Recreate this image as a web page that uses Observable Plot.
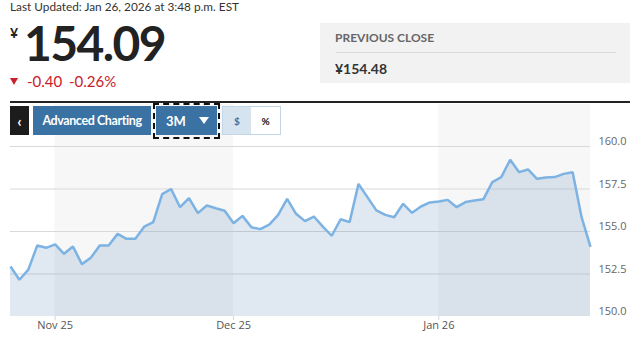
<!DOCTYPE html>
<html><head><meta charset="utf-8">
<script src="https://cdn.jsdelivr.net/npm/d3@7"></script>
<script src="https://cdn.jsdelivr.net/npm/@observablehq/plot@0.6"></script>
<style>
body{margin:0;background:#fff;font-family:Lato,"Open Sans",sans-serif;}
#wrap{position:relative;width:634px;height:353px;overflow:hidden;background:#fff;}
.abs{position:absolute;white-space:nowrap;}
.btn{position:absolute;top:106px;height:29px;display:flex;align-items:center;justify-content:center;box-sizing:border-box;}
</style></head><body>
<div id="wrap">
  <div class="abs" id="updated" style="left:10px;top:1px;font-size:11.8px;line-height:12px;color:#333;"></div>
  <div class="abs" id="cur" style="left:10px;top:25.5px;font-size:14px;line-height:14px;font-weight:700;color:#222;"></div>
  <div class="abs" id="price" style="left:24px;top:19.4px;font-size:48px;line-height:48px;font-weight:700;color:#222;letter-spacing:-1.6px;"></div>
  <div class="abs" id="tri" style="left:10px;top:78px;width:0;height:0;border-left:4px solid transparent;border-right:4px solid transparent;border-top:7px solid #c8202c;"></div>
  <div class="abs" id="chg" style="left:27px;top:74.3px;font-size:15px;line-height:15px;color:#c8202c;"></div>
  <div class="abs" id="pct" style="left:69px;top:74.3px;font-size:15px;line-height:15px;color:#c8202c;"></div>
  <div class="abs" style="left:320px;top:23px;width:310px;height:60px;background:#f2f2f2;"></div>
  <div class="abs" id="pcLabel" style="left:335px;top:32px;font-size:12px;line-height:12px;font-weight:700;color:#666;"></div>
  <div class="abs" style="left:336px;top:52px;width:280px;height:1px;background:#d9d9d9;"></div>
  <div class="abs" id="pcVal" style="left:335px;top:61.6px;font-size:14px;line-height:14px;font-weight:700;color:#333;"></div>
  <div class="abs" style="left:10px;top:101px;width:620px;height:2px;background:#222;"></div>
  <div id="chart" class="abs" style="left:0;top:100px;"></div>
  <div class="btn" style="left:10px;width:19px;background:#1c1c1c;color:#fff;font-size:15px;font-weight:700;">&lsaquo;</div>
  <div class="btn" id="adv" style="left:33px;width:118px;background:#3a72a3;color:#fff;font-size:12.5px;font-weight:700;letter-spacing:-0.4px;"></div>
  <div class="abs" style="left:153px;top:103px;width:67px;height:36px;box-sizing:border-box;border:2px dashed #111;"></div>
  <div class="btn" id="range" style="left:156px;width:61px;background:#3a72a3;color:#fff;font-size:13px;font-weight:700;justify-content:flex-start;padding-left:10px;"></div>
  <div class="abs" style="left:199px;top:117px;width:0;height:0;border-left:5px solid transparent;border-right:5px solid transparent;border-top:7px solid #fff;"></div>
  <div class="btn" id="usd" style="left:222px;width:30px;background:#d6e4f0;border:1px solid #c3d6e8;color:#3a72a3;font-size:10px;font-weight:700;"></div>
  <div class="btn" id="pctBtn" style="left:251px;width:30px;background:#fff;border:1px solid #c3d6e8;border-left:none;color:#111;font-size:10px;font-weight:700;"></div>
</div>
<script>
// ---- texts ----
const updatedText = "Last Updated: Jan 26, 2026 at 3:48 p.m. EST";
const currency = "¥";
const lastPrice = "154.09";
const change = "-0.40";
const changePct = "-0.26%";
const prevCloseLabel = "PREVIOUS CLOSE";
const prevClose = "¥154.48";
const buttonLabels = ["Advanced Charting", "3M", "$", "%"];

// ---- data ----
const dates = [
  "2025-10-27","2025-10-28","2025-10-29","2025-10-30","2025-10-31",
  "2025-11-03","2025-11-04","2025-11-05","2025-11-06","2025-11-07",
  "2025-11-10","2025-11-11","2025-11-12","2025-11-13","2025-11-14",
  "2025-11-17","2025-11-18","2025-11-19","2025-11-20","2025-11-21",
  "2025-11-24","2025-11-25","2025-11-26","2025-11-27","2025-11-28",
  "2025-12-01","2025-12-02","2025-12-03","2025-12-04","2025-12-05",
  "2025-12-08","2025-12-09","2025-12-10","2025-12-11","2025-12-12",
  "2025-12-15","2025-12-16","2025-12-17","2025-12-18","2025-12-19",
  "2025-12-22","2025-12-23","2025-12-24","2025-12-25","2025-12-26",
  "2025-12-29","2025-12-30","2025-12-31",
  "2026-01-01","2026-01-02","2026-01-05","2026-01-06","2026-01-07",
  "2026-01-08","2026-01-09","2026-01-12","2026-01-13","2026-01-14",
  "2026-01-15","2026-01-16","2026-01-19","2026-01-20","2026-01-21",
  "2026-01-22","2026-01-23","2026-01-26"
];
const closes = [
  152.94,152.16,152.76,154.18,154.04,
  154.24,153.69,154.12,153.08,153.45,
  154.18,154.18,154.86,154.57,154.57,
  155.29,155.55,157.20,157.50,156.43,
  156.96,156.08,156.53,156.37,156.22,
  155.49,155.92,155.25,155.14,155.41,
  155.98,156.92,156.04,155.61,155.88,
  155.29,154.75,155.72,155.55,157.80,
  157.02,156.24,155.98,155.84,156.63,
  156.10,156.47,156.71,
  156.76,156.86,156.43,156.73,156.82,
  156.90,157.90,158.20,159.22,158.49,
  158.65,158.10,158.18,158.20,158.39,
  158.49,155.84,154.09
];
const yTicks = [150, 152.5, 155, 157.5, 160];

// ---- fill texts ----
document.getElementById("updated").textContent = updatedText;
document.getElementById("cur").textContent = currency;
document.getElementById("price").textContent = lastPrice;
document.getElementById("chg").textContent = change;
document.getElementById("pct").textContent = changePct;
document.getElementById("pcLabel").textContent = prevCloseLabel;
document.getElementById("pcVal").textContent = prevClose;
document.getElementById("adv").textContent = buttonLabels[0];
document.getElementById("range").textContent = buttonLabels[1];
document.getElementById("usd").textContent = buttonLabels[2];
document.getElementById("pctBtn").textContent = buttonLabels[3];

// ---- build table ----
const parse = d3.utcParse("%Y-%m-%d");
const series = dates.map((d, i) => ({i, date: parse(d), v: closes[i]}));
const monthStarts = [0];
for (let i = 1; i < series.length; i++) {
  if (series[i].date.getUTCMonth() !== series[i - 1].date.getUTCMonth()) monthStarts.push(i);
}
const bands = monthStarts.map((s, k) => ({
  x1: s,
  x2: k + 1 < monthStarts.length ? monthStarts[k + 1] : series.length - 1,
  shaded: k % 2 === 1
})).filter(b => b.shaded);
const tickIdx = monthStarts.slice(1);
const fmt = d3.utcFormat("%b %y");

const chart = Plot.plot({
  width: 634,
  height: 240,
  marginLeft: 10,
  marginRight: 44,
  marginTop: 4,
  marginBottom: 24,
  style: {fontFamily: "'Open Sans', sans-serif", fontSize: "11px", background: "transparent", overflow: "visible"},
  x: {type: "linear", domain: [0, series.length - 1]},
  y: {domain: [yTicks[0], yTicks[yTicks.length - 1]], range: [216, 46]},
  marks: [
    Plot.rect(bands, {x1: "x1", x2: "x2", fill: "#f7f7f7"}),
    Plot.ruleY(yTicks.slice(1), {stroke: "#d9d9d9", strokeWidth: 1}),
    Plot.areaY(series, {x: "i", y1: yTicks[0], y2: "v", fill: "#4a7fb0", fillOpacity: 0.17}),
    Plot.lineY(series, {x: "i", y: "v", stroke: "#7db3e3", strokeWidth: 2.5, strokeLinejoin: "miter", strokeLinecap: "butt"}),
    Plot.axisY({anchor: "right", ticks: yTicks, tickFormat: d => d.toFixed(1), tickSize: 0, tickPadding: 8, dy: -5, fill: "#666", label: null}),
    Plot.axisX({ticks: tickIdx, tickFormat: i => fmt(series[i].date), tickSize: 4, tickPadding: 1, stroke: "#cfd8e0", fill: "#555", label: null})
  ]
});
document.getElementById("chart").appendChild(chart);
</script>
</body></html>
